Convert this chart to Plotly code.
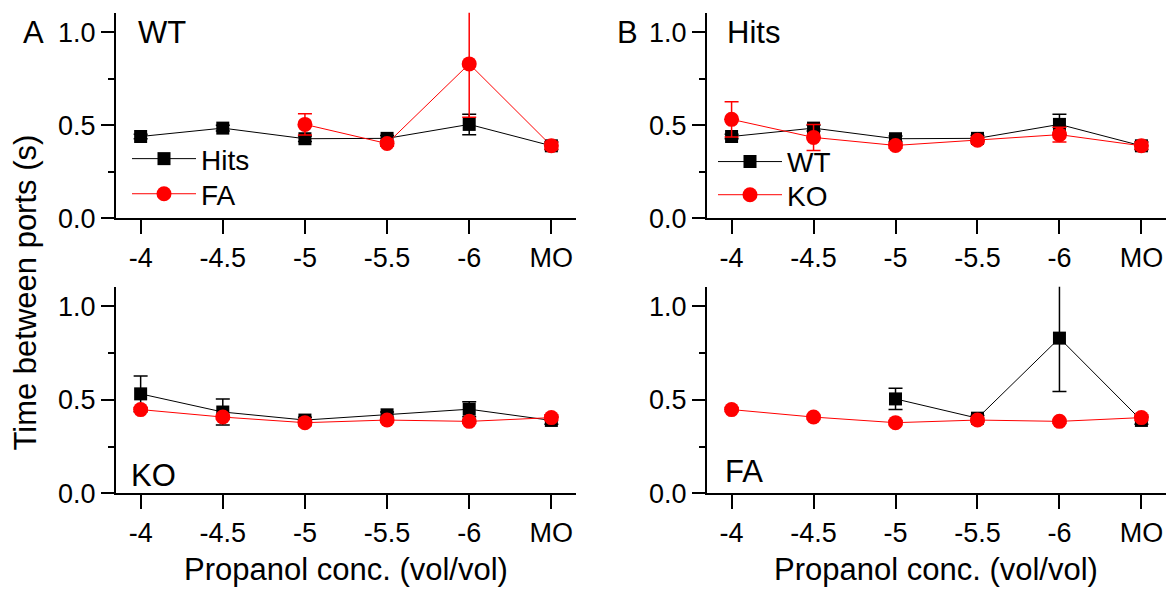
import plotly.graph_objects as go

# ---------------- data ----------------
cats = ["-4", "-4.5", "-5", "-5.5", "-6", "MO"]

wt_hits = [0.44, 0.485, 0.428, 0.43, 0.505, 0.39]
wt_hits_err = [0.012, 0.015, 0.015, 0.015, 0.055, 0.02]

wt_fa = [None, None, 0.505, 0.402, 0.83, 0.39]
wt_fa_err = [None, None, 0.057, 0.015, 0.286, 0.02]

ko_hits = [0.532, 0.435, 0.392, 0.42, 0.45, 0.39]
ko_hits_err = [0.095, 0.07, 0.015, 0.015, 0.04, 0.02]

ko_fa = [0.448, 0.408, 0.378, 0.392, 0.385, 0.405]
ko_fa_err = [0.01, 0.01, 0.01, 0.01, 0.01, 0.015]

yticks = [0.0, 0.5, 1.0]
yticklabels = ["0.0", "0.5", "1.0"]
yminor = [0.25, 0.75]

FONT = "Liberation Sans, Arial, sans-serif"
W, H = 1175, 602
BLACK = "#000000"
RED = "#ff0000"

boxes = {
    "A": (116, 576, 13, 224),
    "B": (707, 1166, 13, 224),
    "C": (116, 576, 294, 506),
    "D": (707, 1166, 294, 506),
}

def dom(b):
    l, r, t, bt = b
    return [l / W, r / W], [(H - bt) / H, (H - t) / H]

fig = go.Figure()

panels = [
    ("A", "", (wt_hits, wt_hits_err, "Hits", "legend"), (wt_fa, wt_fa_err, "FA", "legend2")),
    ("B", "2", (wt_hits, wt_hits_err, "WT", "legend3"), (ko_hits, ko_hits_err, "KO", "legend4")),
    ("C", "3", (ko_hits, ko_hits_err, "Hits", None), (ko_fa, ko_fa_err, "FA", None)),
    ("D", "4", (wt_fa, wt_fa_err, "WT", None), (ko_fa, ko_fa_err, "KO", None)),
]

for key, sfx, blk, red in panels:
    xa = "x" + sfx
    ya = "y" + sfx
    for (vals, err, name, leg), color, sym, size in [
        (blk, BLACK, "square", 13),
        (red, RED, "circle", 15),
    ]:
        fig.add_trace(go.Scatter(
            x=cats, y=vals, name=name,
            xaxis=xa, yaxis=ya,
            mode="lines+markers",
            connectgaps=False,
            cliponaxis=False,
            line=dict(color=color, width=1),
            marker=dict(symbol=sym, size=size, color=color, line=dict(width=0)),
            error_y=dict(type="data", array=err, visible=True,
                         color=color, thickness=1.5, width=7),
            showlegend=leg is not None,
            legend=leg if leg else "legend",
        ))

layout = dict(
    width=W, height=H,
    margin=dict(l=0, r=0, t=0, b=0, pad=0),
    paper_bgcolor="white", plot_bgcolor="white",
    font=dict(family=FONT, size=26, color="black"),
)

for key, sfx, *_ in panels:
    xd, yd = dom(boxes[key])
    layout["xaxis" + sfx] = dict(
        domain=xd, anchor="y" + sfx, type="category",
        range=[-0.3, 5.3],
        tickvals=cats, ticktext=cats,
        showline=True, linewidth=2, linecolor="black",
        ticks="outside", ticklen=14, tickwidth=2, tickcolor="black",
        showgrid=False, zeroline=False,
        tickfont=dict(family=FONT, size=27, color="black"),
    )
    layout["yaxis" + sfx] = dict(
        domain=yd, anchor="x" + sfx,
        range=[0, 1.105],
        tickvals=yticks, ticktext=yticklabels,
        showline=True, linewidth=2, linecolor="black",
        ticks="outside", ticklen=13, tickwidth=2, tickcolor="black",
        minor=dict(tickvals=yminor, ticks="outside", ticklen=6,
                   tickwidth=2, tickcolor="black"),
        showgrid=False, zeroline=False,
        tickfont=dict(family=FONT, size=27, color="black"),
    )

leg_common = dict(
    font=dict(family=FONT, size=28, color="black"),
    bgcolor="rgba(0,0,0,0)", borderwidth=0,
    itemwidth=64, xanchor="left", yanchor="middle",
    itemclick=False, itemdoubleclick=False,
)
layout["legend"] = dict(x=127 / W, y=1 - 163 / H, **leg_common)
layout["legend2"] = dict(x=127 / W, y=1 - 199 / H, **leg_common)
layout["legend3"] = dict(x=713 / W, y=1 - 166 / H, **leg_common)
layout["legend4"] = dict(x=713 / W, y=1 - 200 / H, **leg_common)

def ann(text, x, y, size=31, xanchor="left", angle=0):
    return dict(text=text, x=x / W, y=1 - y / H, xref="paper", yref="paper",
                showarrow=False, xanchor=xanchor, yanchor="middle",
                textangle=angle, font=dict(family=FONT, size=size, color="black"))

layout["annotations"] = [
    ann("A", 33, 33, xanchor="center"),
    ann("B", 627, 33, xanchor="center"),
    ann("WT", 136, 33),
    ann("Hits", 725, 33),
    ann("KO", 129, 488),
    ann("FA", 723, 484),
    ann("Propanol conc. (vol/vol)", 346, 584, xanchor="center"),
    ann("Propanol conc. (vol/vol)", 936, 584, xanchor="center"),
    ann("Time between ports (s)", 26, 300, xanchor="center", angle=-90),
]

fig.update_layout(**layout)
fig.write_html("out.html")
